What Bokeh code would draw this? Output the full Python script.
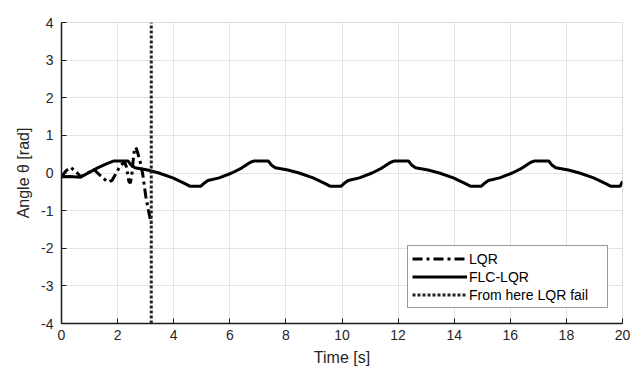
from bokeh.plotting import figure
from bokeh.models import Range1d, FixedTicker, Legend, LegendItem
from bokeh.embed import file_html
from bokeh.resources import INLINE

# ---- data ----
lqr_t = [0.0, 0.15, 0.32, 0.5, 0.68, 0.9, 1.15, 1.4, 1.65, 1.8, 1.95, 2.1, 2.25,
         2.32, 2.4, 2.45, 2.5, 2.55, 2.6, 2.65, 2.7, 2.82, 2.9, 3.0, 3.1, 3.2]
lqr_y = [-0.10, 0.05, 0.15, 0.05, -0.10, -0.02, 0.10, -0.08, -0.24, -0.20, 0.0, 0.20, 0.29,
         0.15, -0.22, -0.27, -0.10, 0.30, 0.62, 0.68, 0.58, 0.25, -0.05, -0.60, -1.00, -1.35]

flc_t = [0.0, 0.3, 0.68, 1.0, 1.27, 1.6, 1.87, 2.37, 2.47, 2.62, 3.07, 3.47, 3.97,
         4.42, 4.57, 4.97, 5.07, 5.22, 5.62, 6.07, 6.42, 6.72, 6.87, 7.37, 7.47,
         7.62, 8.07, 8.47, 8.97, 9.42, 9.57, 9.97, 10.07, 10.22, 10.62, 11.07,
         11.42, 11.72, 11.87, 12.37, 12.47, 12.62, 13.07, 13.47, 13.97, 14.42,
         14.57, 14.97, 15.07, 15.22, 15.62, 16.07, 16.42, 16.72, 16.87, 17.37,
         17.47, 17.62, 18.07, 18.47, 18.97, 19.42, 19.57, 19.92, 20.0]
flc_y = [-0.10, -0.09, -0.11, 0.02, 0.13, 0.24, 0.32, 0.32, 0.22, 0.14, 0.08, 0.0, -0.13,
         -0.29, -0.35, -0.35, -0.28, -0.20, -0.13, 0.0, 0.13, 0.28, 0.32, 0.32, 0.22,
         0.14, 0.08, 0.0, -0.13, -0.29, -0.35, -0.35, -0.28, -0.20, -0.13, 0.0,
         0.13, 0.28, 0.32, 0.32, 0.22, 0.14, 0.08, 0.0, -0.13, -0.29,
         -0.35, -0.35, -0.28, -0.20, -0.13, 0.0, 0.13, 0.28, 0.32, 0.32,
         0.22, 0.14, 0.08, 0.0, -0.13, -0.29, -0.35, -0.35, -0.22]

fail_t = 3.2
x_ticks = [0, 2, 4, 6, 8, 10, 12, 14, 16, 18, 20]
y_ticks = [-4, -3, -2, -1, 0, 1, 2, 3, 4]
legend_labels = ["LQR", "FLC-LQR", "From here LQR fail"]

FONT = "Liberation Sans"
TXT = "#262626"

p = figure(width=632, height=370, output_backend="svg", toolbar_location=None,
           x_range=Range1d(0, 20), y_range=Range1d(-4, 4),
           min_border_left=61, min_border_right=10, min_border_top=22, min_border_bottom=47)
p.background_fill_color = "white"
p.border_fill_color = "white"
p.outline_line_color = "#dcdcdc"
p.outline_line_width = 1

for ax, ticks in ((p.xaxis, x_ticks), (p.yaxis, y_ticks)):
    ax.ticker = FixedTicker(ticks=ticks)
    ax.major_label_overrides = {t: str(t) for t in ticks}
    ax.minor_tick_line_color = None
    ax.major_tick_in = 5
    ax.major_tick_out = 0
    ax.axis_line_color = "#1a1a1a"
    ax.axis_line_width = 1.5
    ax.major_tick_line_color = "#1a1a1a"
    ax.major_label_text_font = FONT
    ax.major_label_text_font_size = "14px"
    ax.major_label_text_color = TXT
    ax.axis_label_text_font = FONT
    ax.axis_label_text_font_size = "16px"
    ax.axis_label_text_font_style = "normal"
    ax.axis_label_text_color = TXT

p.xaxis.axis_label = "Time [s]"
p.yaxis.axis_label = "Angle θ [rad]"
p.xaxis.major_label_standoff = 6
p.yaxis.major_label_standoff = 8
p.xaxis.axis_label_standoff = 6
p.yaxis.axis_label_standoff = 6

for g in (p.xgrid, p.ygrid):
    g.grid_line_color = "#e3e3e3"
    g.grid_line_width = 1
p.xgrid.ticker = FixedTicker(ticks=x_ticks)
p.ygrid.ticker = FixedTicker(ticks=y_ticks)

r_lqr = p.line(lqr_t, lqr_y, line_color="black", line_width=3, line_dash="10 4 3 4")
r_flc = p.line(flc_t, flc_y, line_color="black", line_width=3)
r_fail = p.line([fail_t, fail_t], [y_ticks[0], y_ticks[-1]], line_color="#222222",
                line_width=3, line_dash="3 2")

legend = Legend(items=[LegendItem(label=legend_labels[0], renderers=[r_lqr]),
                       LegendItem(label=legend_labels[1], renderers=[r_flc]),
                       LegendItem(label=legend_labels[2], renderers=[r_fail])],
                location=(346, 15))
legend.label_text_font = FONT
legend.label_text_font_size = "14px"
legend.label_text_color = "black"
legend.glyph_width = 55
legend.glyph_height = 17
legend.label_height = 17
legend.label_width = 134
legend.label_standoff = 2
legend.spacing = 1
legend.padding = 4
legend.margin = 0
legend.border_line_color = "#333333"
legend.border_line_width = 1
legend.background_fill_color = "white"
legend.background_fill_alpha = 1
p.add_layout(legend, "center")

open("out.html", "w").write(file_html(p, INLINE))
